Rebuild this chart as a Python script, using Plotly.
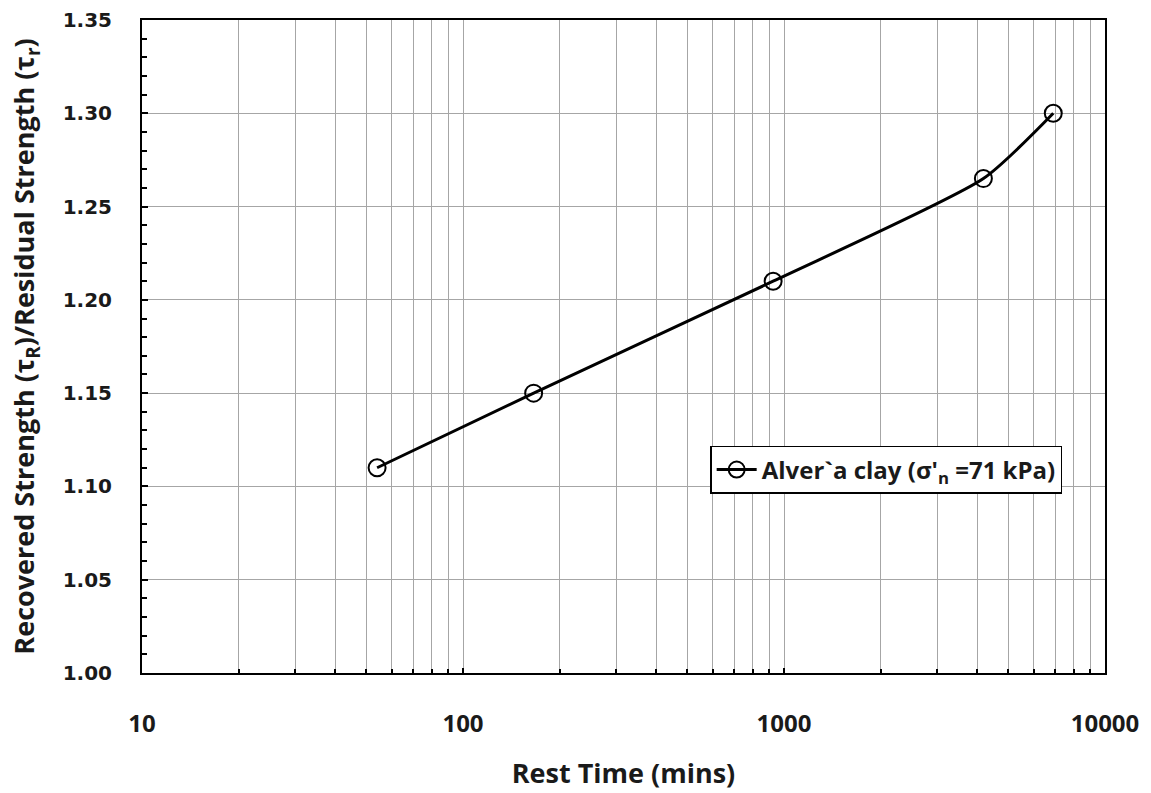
import plotly.graph_objects as go

# Rest time (mins) vs. strength ratio for Alver`a clay
rest_time = [54, 166, 925, 4180, 6900]
strength_ratio = [1.11, 1.15, 1.21, 1.265, 1.30]

y_ticks = [1.00, 1.05, 1.10, 1.15, 1.20, 1.25, 1.30, 1.35]
y_tick_text = ["1.00", "1.05", "1.10", "1.15", "1.20", "1.25", "1.30", "1.35"]
x_ticks = [10, 100, 1000, 10000]
x_tick_text = ["10", "100", "1000", "10000"]

fig = go.Figure()
fig.add_trace(go.Scatter(
    x=rest_time, y=strength_ratio,
    mode="lines+markers",
    line=dict(color="black", width=3, shape="spline", smoothing=0.6),
    marker=dict(symbol="circle-open", size=17, color="black", line=dict(width=2)),
    name="Alver`a clay (σ'<sub>n</sub> =71 kPa)",
))

fig.update_layout(
    width=1151, height=793,
    margin=dict(l=142, r=46, t=20, b=120),
    paper_bgcolor="white", plot_bgcolor="white",
    showlegend=True,
    legend=dict(
        x=0.59, y=0.311, xanchor="left", yanchor="middle",
        bgcolor="white", bordercolor="black", borderwidth=1.5,
        font=dict(family="Open Sans", size=24, color="#1a1a1a", weight="bold"),
        itemwidth=40,
    ),
    xaxis=dict(
        type="log", range=[1, 4], automargin=False,
        tickvals=x_ticks, ticktext=x_tick_text,
        ticks="inside", ticklen=5, tickcolor="black", tickwidth=1.5,
        ticklabelstandoff=28,
        showgrid=True, gridcolor="#a6a6a6", gridwidth=1,
        minor=dict(ticks="inside", ticklen=4, tickcolor="black", showgrid=True,
                   gridcolor="#a6a6a6", gridwidth=1, dtick="D1"),
        showline=True, linecolor="black", linewidth=2, mirror=True,
        tickfont=dict(family="Open Sans", size=24, color="#1a1a1a", weight="bold"),
        title=dict(text="Rest Time (mins)", standoff=26,
                   font=dict(family="Open Sans", size=27, color="#1a1a1a", weight="bold")),
        zeroline=False,
    ),
    yaxis=dict(
        range=[1.00, 1.35], automargin=False,
        tickvals=y_ticks, ticktext=y_tick_text,
        ticks="inside", ticklen=6, tickcolor="black", tickwidth=1.5,
        ticklabelstandoff=24,
        showgrid=True, gridcolor="#a6a6a6", gridwidth=1,
        minor=dict(ticks="inside", ticklen=5, tickcolor="black", dtick=0.01,
                   showgrid=False),
        showline=True, linecolor="black", linewidth=2, mirror=True,
        tickfont=dict(family="DejaVu Sans", size=20, color="#1a1a1a", weight="bold"),
        title=dict(text="Recovered Strength (τ<sub>R</sub>)/Residual Strength (τ<sub>r</sub>)",
                   standoff=20,
                   font=dict(family="Open Sans", size=27, color="#1a1a1a", weight="bold")),
        zeroline=False,
    ),
)

fig.write_html("out.html")
